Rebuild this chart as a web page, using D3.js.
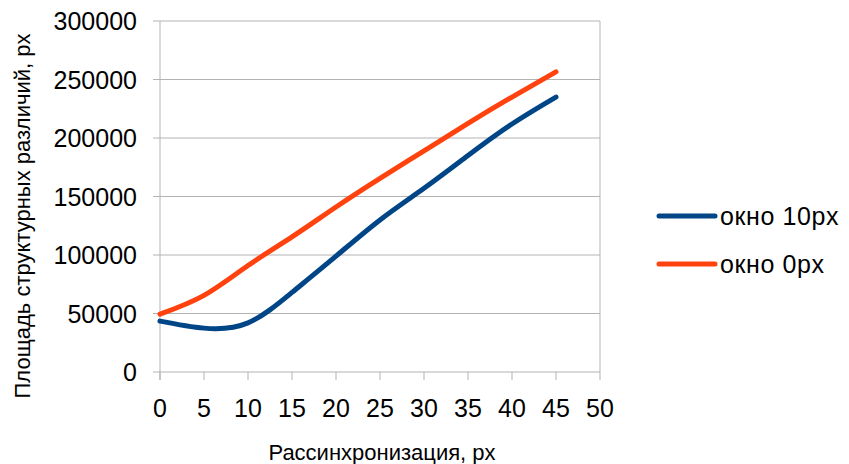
<!DOCTYPE html>
<html><head><meta charset="utf-8">
<script src="https://cdn.jsdelivr.net/npm/d3@7"></script>
<style>body{margin:0;background:#fff;}svg{display:block;font-family:"Liberation Sans",Arial,sans-serif;}</style>
</head><body>
<svg id="c" width="849" height="464"></svg>
<script>
const xValues = [0, 5, 10, 15, 20, 25, 30, 35, 40, 45];
const window10 = [43500, 37500, 42000, 68000, 99000, 130000, 157000, 185000, 212000, 235000];
const window0 = [49500, 65500, 91000, 115500, 141000, 165500, 189000, 212500, 235000, 256500];
const seriesNames = ["окно 10px", "окно 0px"];
const seriesColors = ["#004586", "#ff420e"];
const xTicks = [0, 5, 10, 15, 20, 25, 30, 35, 40, 45, 50];
const yTicks = [0, 50000, 100000, 150000, 200000, 250000, 300000];
const xTitle = "Рассинхронизация, px";
const yTitle = "Площадь структурных различий, px";

const svg = d3.select("#c");
const L = 160, R = 600, T = 21, B = 372;
const x = d3.scaleLinear().domain([0, 50]).range([L, R]);
const y = d3.scaleLinear().domain([0, 300000]).range([B, T]);

// gridlines
svg.append("g").selectAll("line").data(yTicks).join("line")
  .attr("x1", L - 7).attr("x2", R).attr("y1", d => y(d)).attr("y2", d => y(d))
  .attr("stroke", "#b3b3b3").attr("stroke-width", 1);
// right border
svg.append("line").attr("x1", R).attr("x2", R).attr("y1", T).attr("y2", B)
  .attr("stroke", "#b3b3b3");
// y axis line
svg.append("line").attr("x1", L).attr("x2", L).attr("y1", T).attr("y2", B + 8)
  .attr("stroke", "#b3b3b3");
// x ticks
svg.append("g").selectAll("line").data(xTicks).join("line")
  .attr("x1", d => x(d)).attr("x2", d => x(d)).attr("y1", B).attr("y2", B + 8)
  .attr("stroke", "#b3b3b3");

// tick labels
svg.append("g").selectAll("text").data(yTicks).join("text")
  .attr("x", 137).attr("y", d => y(d)).attr("dy", "0.36em")
  .attr("text-anchor", "end").attr("font-size", 25).attr("fill", "#000")
  .text(d => d);
svg.append("g").selectAll("text").data(xTicks).join("text")
  .attr("x", d => x(d)).attr("y", 417)
  .attr("text-anchor", "middle").attr("font-size", 25).attr("fill", "#000")
  .text(d => d);

// titles
svg.append("text").attr("x", 382).attr("y", 460).attr("text-anchor", "middle")
  .attr("font-size", 22).text(xTitle);
svg.append("text").attr("transform", "translate(30,216) rotate(-90)")
  .attr("text-anchor", "middle").attr("font-size", 22).text(yTitle);

// lines
const line = d3.line().x((d, i) => x(xValues[i])).y(d => y(d)).curve(d3.curveNatural);
[window10, window0].forEach((s, k) => {
  svg.append("path").attr("d", line(s)).attr("fill", "none")
    .attr("stroke", seriesColors[k]).attr("stroke-width", 5)
    .attr("stroke-linecap", "round").attr("stroke-linejoin", "round");
});

// legend
seriesNames.forEach((n, k) => {
  const ly = 216 + k * 48;
  svg.append("line").attr("x1", 659).attr("x2", 715).attr("y1", ly).attr("y2", ly)
    .attr("stroke", seriesColors[k]).attr("stroke-width", 5).attr("stroke-linecap", "round");
  svg.append("text").attr("x", 720).attr("y", ly).attr("dy", "0.36em")
    .attr("font-size", 25).attr("letter-spacing", 0.6).text(n);
});
</script>
</body></html>
